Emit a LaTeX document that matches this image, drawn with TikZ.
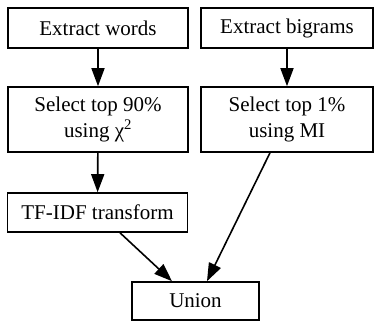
\documentclass[tikz,border=0pt]{standalone}
\usepackage{fontspec}
\setmainfont{Liberation Serif}
\usetikzlibrary{arrows.meta}

\tikzset{
	stage/.style={draw,line width=1.6pt,align=center,inner sep=0pt,font=\fontsize{21}{26}\selectfont},
	flow/.style={line width=1.6pt,-{Triangle[length=18pt,width=13pt]}}
}

\begin{document}
\begin{tikzpicture}[x=1pt,y=-1pt]
			\useasboundingbox (0,0) rectangle (376,322);
			\node[stage,minimum width=180pt,minimum height=40pt] (words) at (98,28) {Extract words};
			\node[stage,minimum width=172pt,minimum height=40pt] (bigrams) at (287,28) {Extract bigrams};
			\node[stage,minimum width=180pt,minimum height=65pt] (chisel) at (98,119.5) {Select top 90\%\\using χ\textsuperscript{2}};
			\node[stage,minimum width=172pt,minimum height=65pt] (misel) at (287,119.5) {Select top 1\%\\using MI};
			\node[stage,minimum width=180pt,minimum height=39pt] (tfidf) at (97.5,212.5) {TF-IDF transform};
			\node[stage,minimum width=127pt,minimum height=38pt] (union) at (195.5,301) {Union};
			\draw[flow] (words) -- (chisel);
			\draw[flow] (bigrams) -- (misel);
			\draw[flow] (chisel) -- (tfidf);
			\draw[flow] ([xshift=22.5pt]tfidf.south) -- ([xshift=-23.5pt]union.north);
			\draw[flow] ([xshift=-17pt]misel.south) -- ([xshift=11.5pt]union.north);
		\end{tikzpicture}
\end{document}
